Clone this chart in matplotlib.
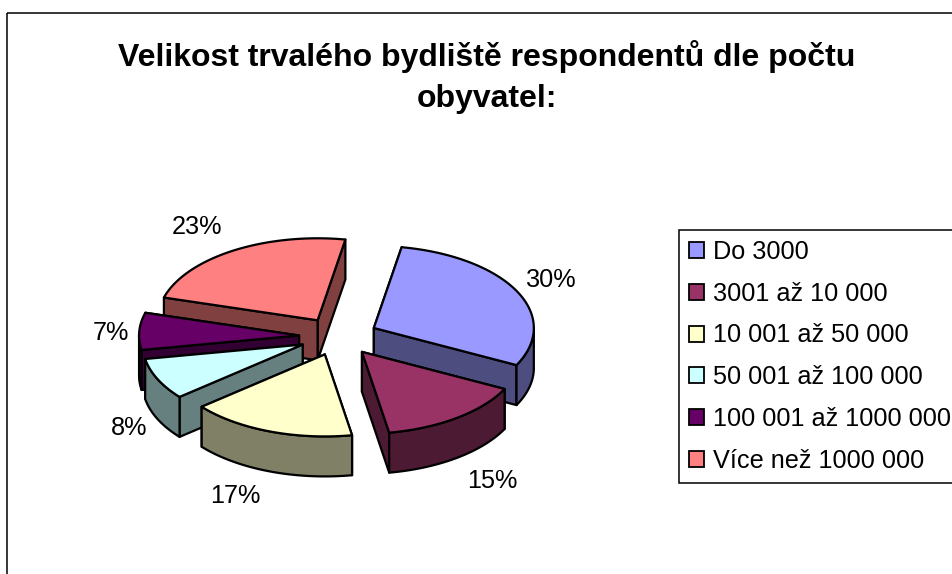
import numpy as np
import matplotlib.pyplot as plt
from matplotlib.colors import to_rgb
from matplotlib.patches import Polygon, Rectangle

plt.rcParams['font.family'] = ['Liberation Sans', 'DejaVu Sans']

title = 'Velikost trvalého bydliště respondentů dle počtu\nobyvatel:'
categories = ['Do 3000', '3001 až 10 000', '10 001 až 50 000', '50 001 až 100 000',
              '100 001 až 1000 000', 'Více než 1000 000']
values = [29.7, 14.8, 16.7, 8.2, 7.3, 23.3]
colors = ['#9999FF', '#993366', '#FFFFCC', '#CCFFFF', '#660066', '#FF8080']
label_pos = [(551, 280), (492, 481), (235, 496), (129, 428), (111, 333), (197, 227)]

# pie geometry in pixels
cx, cy = 338.5, 336.5
rx, ry = 160, 82
ex, ey = 39.5, 19.1
depth = 40
start = 10

fig = plt.figure(figsize=(9.52, 5.74), dpi=100)
ax = fig.add_axes([0, 0, 1, 1])
ax.set_xlim(0, 952)
ax.set_ylim(574, 0)
ax.axis('off')

ax.add_patch(Rectangle((7, 13), 1100, 800, fill=False, ec='black', lw=1.1))


def rim(theta, ox, oy):
    t = np.radians(theta)
    return ox + rx * np.sin(t), oy - ry * np.cos(t)


edges = start + np.cumsum([0] + values) * 3.6
slices = []
for i in range(len(values)):
    a, b = edges[i], edges[i + 1]
    mid = np.radians((a + b) / 2)
    ox = cx + ex * np.sin(mid)
    oy = cy - ey * np.cos(mid)
    slices.append((oy, ox, a, b, colors[i]))

for oy, ox, a, b, col in sorted(slices, key=lambda s: s[0]):
    side = tuple(c * 0.5 for c in to_rgb(col))
    style = dict(fc=side, ec='black', lw=1.6, joinstyle='round')

    # radial walls, the further one first
    walls = sorted([a, b], key=lambda th: rim(th, ox, oy)[1])
    for th in walls:
        x, y = rim(th, ox, oy)
        ax.add_patch(Polygon([(ox, oy), (x, y), (x, y + depth), (ox, oy + depth)], **style))

    # outer wall, only the part facing the viewer
    for lo, hi in [(a, b), (a - 360, b - 360)]:
        lo, hi = max(lo, 90), min(hi, 270)
        if hi > lo:
            th = np.linspace(lo, hi, 60)
            x, y = rim(th, ox, oy)
            pts = np.r_[np.c_[x, y], np.c_[x, y + depth][::-1]]
            ax.add_patch(Polygon(pts, **style))

    th = np.linspace(a, b, 80)
    x, y = rim(th, ox, oy)
    pts = np.r_[[(ox, oy)], np.c_[x, y]]
    ax.add_patch(Polygon(pts, fc=col, ec='black', lw=1.6, joinstyle='round'))

for v, (x, y) in zip(values, label_pos):
    ax.text(x, y, f'{v:.0f}%', fontsize=18.2, ha='center', va='center')

ax.text(487, 77, title, fontsize=23, fontweight='bold', ha='center', va='center',
        linespacing=1.44)

handles = [Rectangle((0, 0), 1, 1, fc=c, ec='black', lw=1.3) for c in colors]
leg = ax.legend(handles, categories, loc='upper left', bbox_to_anchor=(679, 230),
                bbox_transform=ax.transData, fontsize=18.2, frameon=True, fancybox=False,
                framealpha=1, edgecolor='black', borderaxespad=0, borderpad=0.4,
                labelspacing=0.70, handlelength=0.6, handleheight=0.6, handletextpad=0.35)
leg.get_frame().set_linewidth(1.1)

plt.savefig('out.png', dpi=100)
